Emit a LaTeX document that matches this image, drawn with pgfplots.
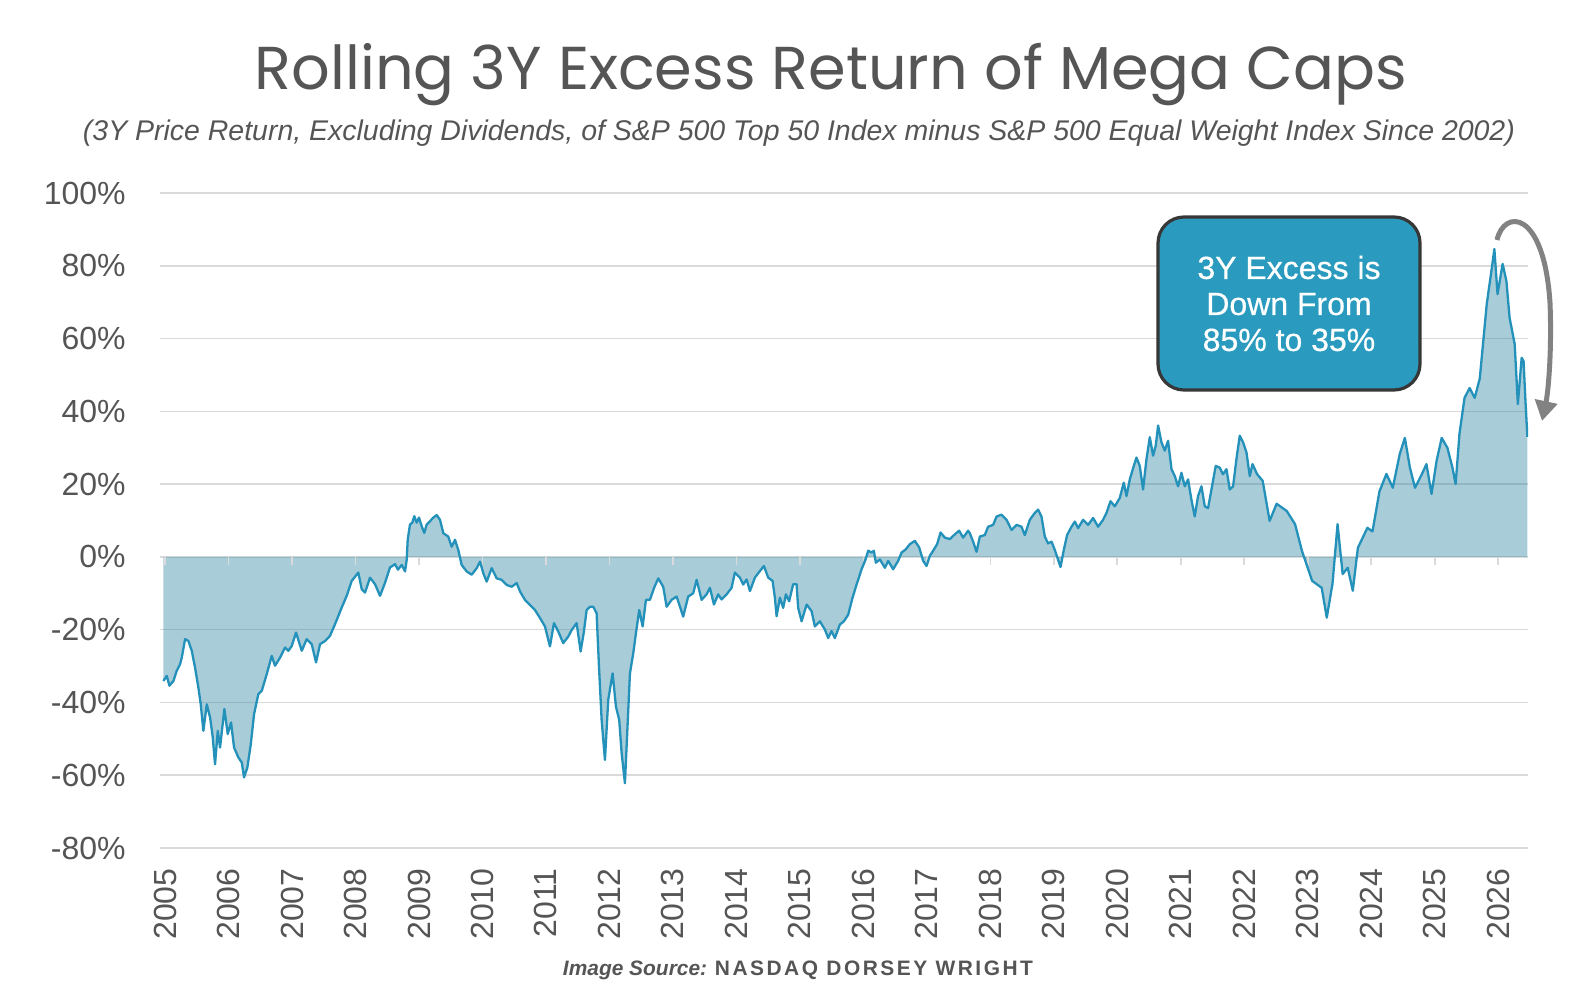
\documentclass[border=0pt]{standalone}
\usepackage{fontspec}
\setmainfont{Liberation Sans}
\newfontfamily\titlefont{Poppins}
\newfontfamily\boxfont[FakeBold=0.5]{Liberation Sans}
\usepackage{pgfplots}
\usepackage{pgfplotstable}
\pgfplotsset{compat=1.18}
\usetikzlibrary{arrows.meta}
\definecolor{linec}{RGB}{35,145,185}
\definecolor{fillc}{RGB}{38,128,158}
\definecolor{boxc}{RGB}{42,155,190}
\definecolor{txtc}{RGB}{85,85,85}
\definecolor{gridc}{RGB}{218,218,218}
\definecolor{arrc}{RGB}{130,130,130}
\definecolor{boxline}{RGB}{55,55,55}
\pgfplotstableread{
x y
2004.973 -34.1
2005.027 -32.7
2005.068 -35.4
2005.131 -34.1
2005.184 -31.3
2005.236 -29.5
2005.263 -27.7
2005.315 -22.6
2005.367 -23.1
2005.420 -25.8
2005.472 -30.4
2005.524 -35.9
2005.562 -40.5
2005.603 -47.8
2005.657 -40.5
2005.709 -44.1
2005.751 -49.6
2005.787 -57
2005.830 -47.8
2005.866 -52.4
2005.934 -41.8
2005.987 -48.7
2006.039 -45.5
2006.087 -52.4
2006.154 -55.1
2006.208 -56.5
2006.244 -60.6
2006.296 -57.9
2006.350 -51.5
2006.402 -43.2
2006.469 -37.7
2006.523 -36.8
2006.602 -32.2
2006.680 -27.2
2006.732 -29.9
2006.811 -27.7
2006.890 -24.9
2006.942 -25.8
2006.995 -24.5
2007.063 -20.8
2007.153 -25.8
2007.231 -22.6
2007.310 -24
2007.378 -29
2007.441 -24
2007.520 -23.1
2007.598 -21.7
2007.677 -18.5
2007.783 -13.9
2007.861 -10.7
2007.940 -6.6
2008.044 -4.3
2008.098 -8.9
2008.150 -9.8
2008.228 -5.7
2008.307 -7.5
2008.386 -10.7
2008.465 -7.1
2008.543 -2.9
2008.622 -2
2008.669 -3.5
2008.728 -2.2
2008.780 -4
2008.806 -0.8
2008.822 4.7
2008.858 8.9
2008.894 9.4
2008.926 11.2
2008.964 9.4
2009.000 10.8
2009.043 8.4
2009.083 6.6
2009.121 8.9
2009.173 9.8
2009.225 10.8
2009.279 11.5
2009.331 10.2
2009.383 6.5
2009.461 5.6
2009.515 2.8
2009.567 4.7
2009.619 1.9
2009.672 -2.2
2009.751 -4
2009.830 -4.9
2009.909 -3.1
2009.961 -1.3
2010.013 -4.5
2010.066 -6.8
2010.145 -3.1
2010.224 -5.9
2010.302 -6.3
2010.381 -7.7
2010.460 -8.2
2010.539 -7.2
2010.591 -9.5
2010.669 -11.8
2010.748 -13.2
2010.827 -14.6
2010.906 -16.8
2010.984 -19.1
2011.063 -24.6
2011.126 -18.2
2011.194 -20.5
2011.272 -23.7
2011.351 -21.9
2011.405 -20.1
2011.483 -18.2
2011.546 -26
2011.598 -20.5
2011.641 -14.6
2011.693 -13.7
2011.745 -13.7
2011.798 -15.5
2011.835 -30.1
2011.877 -44.8
2011.929 -55.8
2011.981 -39.3
2012.050 -32
2012.102 -41.1
2012.154 -44.8
2012.192 -53.9
2012.244 -62.2
2012.280 -48.4
2012.323 -32
2012.375 -26.5
2012.417 -21
2012.469 -14.6
2012.523 -19.1
2012.575 -11.8
2012.638 -11.8
2012.701 -8.6
2012.769 -5.9
2012.847 -8.2
2012.901 -13.7
2012.980 -11.8
2013.058 -10.9
2013.162 -16.4
2013.241 -10.9
2013.320 -10
2013.373 -6.3
2013.452 -11.8
2013.531 -10.3
2013.583 -8.5
2013.646 -13.1
2013.713 -10.3
2013.767 -11.7
2013.846 -10.3
2013.924 -8.5
2013.976 -4.3
2014.055 -5.7
2014.107 -7.6
2014.161 -6.2
2014.213 -9.4
2014.291 -5.7
2014.370 -3.9
2014.433 -2.5
2014.501 -5.7
2014.570 -6.6
2014.606 -11.2
2014.633 -16.3
2014.685 -11.2
2014.737 -14
2014.780 -10.3
2014.831 -12.2
2014.894 -7.5
2014.948 -7.5
2014.973 -14
2015.027 -17.7
2015.106 -13.1
2015.184 -14.9
2015.236 -19.1
2015.315 -17.7
2015.394 -20
2015.446 -22.3
2015.499 -20.4
2015.551 -22.3
2015.630 -18.6
2015.693 -17.7
2015.761 -15.9
2015.830 -11.2
2015.893 -7.6
2015.972 -3.4
2016.035 -0.7
2016.076 1.7
2016.129 1.2
2016.165 1.7
2016.197 -1.6
2016.260 -0.7
2016.339 -3
2016.391 -1.1
2016.469 -3.4
2016.548 -1.1
2016.602 1.2
2016.669 2.1
2016.732 3.5
2016.811 4.4
2016.879 2.6
2016.942 -1.1
2016.995 -2.5
2017.047 0.3
2017.099 1.7
2017.162 3.5
2017.216 6.7
2017.283 5.3
2017.362 4.9
2017.441 6.2
2017.509 7.2
2017.572 5.3
2017.650 7.2
2017.677 6.5
2017.729 4.2
2017.783 1.4
2017.835 5.6
2017.913 6
2017.965 8.3
2018.044 8.8
2018.098 11.1
2018.176 11.6
2018.255 10.2
2018.334 7.4
2018.413 8.8
2018.491 8.3
2018.543 6
2018.622 10.2
2018.701 12.1
2018.753 13
2018.806 11.1
2018.858 5.6
2018.910 3.7
2018.964 4.2
2019.016 1.9
2019.052 0
2019.106 -2.8
2019.157 1.9
2019.209 6
2019.279 8.3
2019.331 9.7
2019.383 7.9
2019.461 10.2
2019.540 8.8
2019.619 10.7
2019.698 8.3
2019.776 10.2
2019.830 12.1
2019.893 15.3
2019.961 13.9
2020.039 16.2
2020.102 20.4
2020.145 16.7
2020.197 21.3
2020.260 25
2020.302 27.3
2020.354 25
2020.406 18.5
2020.460 26.9
2020.512 32.9
2020.564 27.8
2020.606 30.6
2020.643 36.1
2020.696 31.5
2020.748 29.2
2020.800 31.9
2020.854 24.1
2020.906 22.2
2020.957 19.4
2021.011 23.1
2021.063 19.4
2021.115 21.3
2021.168 15.7
2021.220 11.1
2021.272 16.7
2021.326 19.4
2021.378 13.9
2021.430 13.4
2021.483 18.5
2021.551 25
2021.614 24.5
2021.666 22.7
2021.720 24.1
2021.772 18.5
2021.824 19.4
2021.877 26.9
2021.929 33.3
2021.981 31.5
2022.035 28.7
2022.087 22.2
2022.13 25.5
2022.20 22.8
2022.29 20.9
2022.40 9.9
2022.51 14.6
2022.67 12.6
2022.80 9
2022.91 1.6
2022.98 -2
2023.07 -6.6
2023.22 -8.5
2023.30 -16.7
2023.39 -7.4
2023.47 9
2023.55 -4.7
2023.63 -3
2023.71 -9.3
2023.79 2.5
2023.94 8
2024.02 7
2024.13 18
2024.24 22.8
2024.34 19
2024.45 28.3
2024.53 32.7
2024.61 24.5
2024.69 19
2024.80 22.8
2024.87 25.5
2024.95 17.3
2025.03 26.4
2025.11 32.7
2025.20 30
2025.28 24.5
2025.33 20
2025.39 33.8
2025.47 43.7
2025.55 46.4
2025.63 43.7
2025.71 49
2025.82 69.5
2025.90 79.4
2025.94 84.6
2025.99 72.2
2026.07 80.5
2026.13 75.8
2026.18 65.7
2026.26 58.5
2026.31 42
2026.37 54.7
2026.40 53.8
2026.43 42.8
2026.46 33
}\data
\begin{document}
\begin{tikzpicture}
\useasboundingbox (0,0) rectangle (787pt,496.5pt);
\begin{axis}[
  at={(80pt,72.5pt)}, anchor=south west,
  scale only axis, width=684pt, height=327.5pt,
  xmin=2004.92, xmax=2026.47, ymin=-80, ymax=100,
  axis line style={draw=none},
  major tick length=0pt,
  ymajorgrids, grid style={gridc, line width=0.8pt},
  ytick={-80,-60,...,100},
  yticklabels={-80\%,-60\%,-40\%,-20\%,0\%,20\%,40\%,60\%,80\%,100\%},
  xtick={2005,2006,...,2026},
  xticklabels={2005,2006,2007,2008,2009,2010,2011,2012,2013,2014,2015,2016,2017,2018,2019,2020,2021,2022,2023,2024,2025,2026},
  xtick pos=left, ytick pos=left,
  ticklabel style={font=\fontsize{16}{16}\selectfont, text=txtc},
  xticklabel style={rotate=90, anchor=east, inner sep=0pt},
  xticklabel shift=10pt,
  yticklabel style={anchor=east, inner sep=0pt},
  yticklabel shift=17pt,
]
\addplot[draw=none, fill=fillc, fill opacity=0.4] table[x=x,y=y]{\data} \closedcycle;
\pgfplotsinvokeforeach{2005,2006,...,2026}{
  \draw[gridc, line width=0.8pt] (axis cs:#1,0) -- ([yshift=-4pt]axis cs:#1,0);
}
\addplot[linec, line width=1.15pt, line join=round] table[x=x,y=y]{\data};
\end{axis}
\node[text=txtc] at (415.5pt,459pt) {\resizebox{576pt}{!}{\titlefont Rolling 3Y Excess Return of Mega Caps}};
\node[text=txtc] at (399.5pt,430pt) {\resizebox{716pt}{!}{\itshape (3Y Price Return, Excluding Dividends, of S\&P 500 Top 50 Index minus S\&P 500 Equal Weight Index Since 2002)}};
\node[text=txtc] at (399pt,11.5pt) {\resizebox{235pt}{!}{\bfseries\itshape Image Source: \upshape\addfontfeatures{LetterSpace=12}NASDAQ DORSEY WRIGHT}};
\node[draw=boxline, line width=1.6pt, fill=boxc, rounded corners=13pt,
  minimum width=131pt, minimum height=86.5pt, text=white, align=center,
  font=\boxfont\fontsize{16}{18}\selectfont] at (644.5pt,344.75pt) {3Y Excess is\\Down From\\85\% to 35\%};
\draw[arrc, line width=2.5pt, -{Triangle[length=10pt,width=11pt]}]
  (748.5pt,376.5pt) .. controls (752pt,392pt) and (772pt,392pt) .. (775pt,345pt)
  .. controls (776pt,320pt) and (774pt,300pt) .. (771pt,286pt);
\end{tikzpicture}
\end{document}
